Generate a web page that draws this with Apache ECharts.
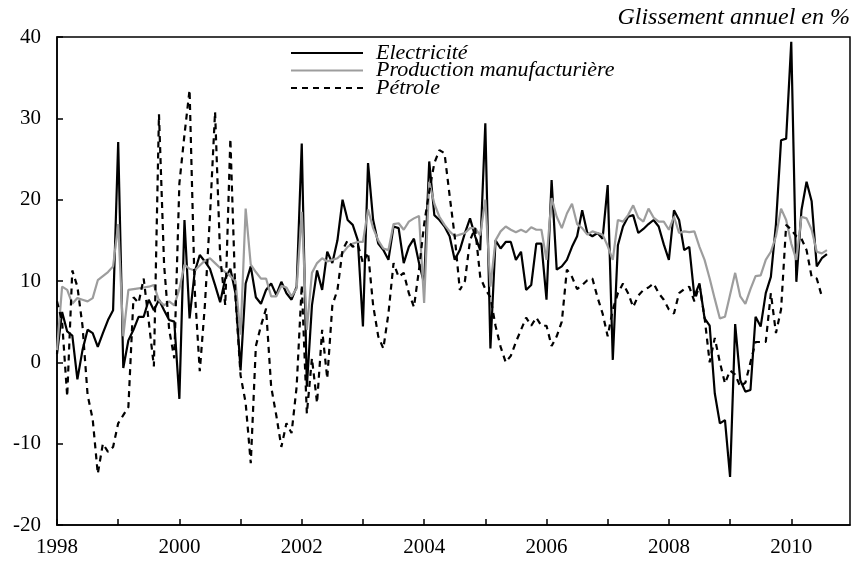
<!DOCTYPE html>
<html>
<head>
<meta charset="utf-8">
<script src="https://cdn.jsdelivr.net/npm/echarts@6/dist/echarts.min.js"></script>
<style>html,body{margin:0;padding:0;background:#fff}#c{width:856px;height:574px}</style>
</head>
<body>
<div id="c"></div>
<script>
// Monthly data, starting January 1998
const startYear = 1998;
const yearTicks = [1998,1999,2000,2001,2002,2003,2004,2005,2006,2007,2008,2009,2010];
const yearLabels = [1998,2000,2002,2004,2006,2008,2010];
const seriesNames = ['Electricité', 'Production manufacturière', 'Pétrole'];
const titleText = 'Glissement annuel en %';

const electricite = [
  1.0, 6.2, 3.8, 3.3, -2.1, 1.5, 4.0, 3.6, 1.9, 3.6, 5.2, 6.4,
  27.1, -0.7, 2.7, 4.0, 5.6, 5.6, 7.7, 6.4, 7.7, 6.4, 5.2, 5.0,
  -4.5, 17.5, 5.4, 11.1, 13.2, 12.4, 11.5, 9.5, 7.4, 10.3, 11.5, 8.5,
  -1.0, 9.7, 11.8, 8.0, 7.2, 8.9, 9.7, 8.3, 9.9, 8.5, 7.7, 9.3,
  26.9, -3.0, 7.0, 11.3, 8.9, 13.6, 12.2, 15.0, 20.0, 17.5, 16.9, 15.0,
  4.4, 24.5, 17.5, 14.6, 13.8, 12.6, 16.7, 16.5, 12.2, 14.2, 15.2, 12.2,
  9.7, 24.7, 18.1, 17.5, 16.7, 15.5, 12.6, 13.8, 15.9, 17.7, 15.5, 13.8,
  29.4, 1.7, 15.0, 14.0, 14.8, 14.8, 12.6, 13.6, 8.9, 9.5, 14.6, 14.6,
  7.7, 22.4, 11.4, 11.8, 12.6, 14.2, 15.5, 18.7, 15.9, 15.5, 15.9, 15.2,
  21.8, 0.3, 14.4, 16.7, 17.9, 18.1, 15.9, 16.4, 17.0, 17.5, 16.7, 14.5,
  12.6, 18.7, 17.5, 13.8, 14.2, 8.1, 9.7, 5.4, 4.5, -3.8, -7.5, -7.1,
  -14.1, 4.7, -2.2, -3.6, -3.4, 5.6, 4.4, 8.5, 10.5, 17.0, 27.3, 27.5,
  39.4, 9.9, 18.7, 22.2, 19.8, 11.8, 12.8, 13.3
];

const production = [
  1.5, 9.3, 8.9, 7.2, 7.9, 7.7, 7.5, 7.9, 10.1, 10.6, 11.1, 11.8,
  17.0, 3.2, 8.9, 9.0, 9.1, 9.2, 9.3, 9.5, 7.6, 7.0, 7.5, 7.0,
  9.0, 12.0, 11.5, 11.3, 11.9, 12.5, 12.8, 12.2, 11.6, 11.1, 10.6, 10.0,
  3.4, 18.9, 12.0, 11.1, 10.3, 10.3, 8.1, 8.1, 9.4, 9.2, 8.1, 9.1,
  18.5, 4.0, 11.0, 12.2, 12.8, 12.4, 12.6, 12.8, 13.4, 14.2, 14.6, 14.8,
  14.8, 18.8, 16.5, 15.0, 14.0, 13.8, 17.0, 17.1, 16.3, 17.3, 17.7, 18.0,
  7.3, 22.2, 19.5, 17.9, 16.9, 16.1, 15.5, 15.7, 15.9, 16.5, 16.5, 15.6,
  20.0, 9.3, 15.0, 16.1, 16.7, 16.3, 16.0, 16.3, 16.0, 16.6, 16.3, 16.3,
  12.6, 20.2, 17.9, 16.5, 18.3, 19.5, 17.0, 16.5, 15.7, 16.1, 15.9, 15.7,
  14.3, 12.6, 17.5, 17.3, 18.1, 19.3, 17.8, 17.3, 18.9, 17.8, 17.3, 17.3,
  16.3, 17.9, 15.9, 16.1, 16.0, 16.1, 14.2, 12.6, 10.3, 7.8, 5.4, 5.6,
  8.3, 11.0, 8.1, 7.2, 9.0, 10.6, 10.7, 12.6, 13.6, 15.5, 18.9, 17.5,
  14.6, 12.6, 17.9, 17.7, 16.3, 13.6, 13.4, 13.8
];

const petrole = [
  7.5, 5.0, -4.2, 11.3, 9.3, 4.5, -4.0, -7.0, -13.7, -10.0, -11.0, -10.4,
  -7.5, -6.5, -5.5, 8.0, 7.3, 10.3, 5.0, -0.5, 30.5, 12.0, 4.0, 0.5,
  22.0, 28.0, 33.5, 9.0, -1.1, 7.0, 18.0, 30.8, 13.0, 7.0, 27.5, 8.0,
  -1.6, -5.0, -12.4, 2.0, 4.5, 6.6, -3.0, -6.5, -10.4, -7.5, -8.7, -3.0,
  9.5, -6.3, 0.5, -5.0, 4.0, -2.0, 7.0, 8.9, 13.8, 15.0, 14.2, 14.5,
  12.2, 13.5, 7.0, 3.2, 1.7, 6.0, 12.2, 10.5, 11.0, 8.5, 6.8, 11.4,
  17.0, 21.0, 24.5, 26.1, 25.7, 20.5, 15.5, 8.9, 10.0, 15.0, 16.5, 10.5,
  9.0, 8.0, 4.5, 1.9, 0.0, 0.8, 2.5, 4.0, 5.5, 4.5, 5.5, 4.5,
  4.5, 2.0, 3.2, 5.0, 11.4, 10.5, 9.0, 9.5, 10.1, 10.3, 8.0, 6.0,
  3.2, 6.5, 8.5, 9.7, 8.5, 6.8, 8.2, 8.9, 9.2, 9.7, 8.5, 7.7,
  6.5, 6.0, 8.5, 9.0, 9.3, 7.5, 9.5, 5.5, 0.0, 3.0, 0.0, -2.6,
  -1.0, -1.5, -3.0, -2.5, 0.0, 2.5, 2.5, 2.5, 8.5, 3.6, 6.5, 16.9,
  16.3, 15.5, 15.2, 13.8, 10.5, 10.3, 8.1
];

function toPoints(arr) {
  return arr.map(function (v, i) { return [startYear + i / 12, v]; });
}

const FONT = '"Liberation Serif", "Times New Roman", serif';
const chart = echarts.init(document.getElementById('c'), null, { renderer: 'canvas' });

const option = {
  animation: false,
  backgroundColor: '#ffffff',
  title: {
    text: titleText,
    right: 6,
    top: 6,
    padding: 0,
    textStyle: { fontFamily: FONT, fontStyle: 'italic', fontWeight: 'normal', fontSize: 24, color: '#000' }
  },
  legend: {
    orient: 'vertical',
    left: 290,
    top: 42,
    padding: 0,
    itemGap: -4.5,
    itemWidth: 72,
    itemHeight: 10,
    data: seriesNames,
    itemStyle: { opacity: 0 },
    textStyle: { fontFamily: FONT, fontStyle: 'italic', fontSize: 22, color: '#000', padding: [0, 0, 0, 8] }
  },
  grid: {
    left: 57, right: 6, top: 37, bottom: 49,
    show: true, borderColor: '#000', borderWidth: 1.5, backgroundColor: 'transparent'
  },
  xAxis: {
    type: 'value',
    min: startYear,
    max: 2010.96,
    axisLine: { show: true, onZero: false, lineStyle: { color: '#000', width: 1.5 } },
    axisTick: { show: true, inside: true, length: 6, customValues: yearTicks, lineStyle: { color: '#000', width: 1.5 } },
    axisLabel: { customValues: yearLabels, formatter: function (v) { return String(Math.round(v)); },
      fontFamily: FONT, fontSize: 21, color: '#000', margin: 12 },
    splitLine: { show: false }
  },
  yAxis: {
    type: 'value',
    min: -20, max: 40, interval: 10,
    axisLine: { show: true, onZero: false, lineStyle: { color: '#000', width: 1.5 } },
    axisTick: { show: true, inside: true, length: 6, lineStyle: { color: '#000', width: 1.5 } },
    axisLabel: { fontFamily: FONT, fontSize: 21, color: '#000', margin: 16 },
    splitLine: { show: false }
  },
  series: [
    {
      name: seriesNames[0], type: 'line', data: toPoints(electricite),
      symbol: 'none', showSymbol: false,
      lineStyle: { color: '#000', width: 2.2, type: 'solid' },
      itemStyle: { color: '#000' }
    },
    {
      name: seriesNames[1], type: 'line', data: toPoints(production),
      symbol: 'none', showSymbol: false,
      lineStyle: { color: '#9d9d9d', width: 2.2, type: 'solid' },
      itemStyle: { color: '#9d9d9d' }
    },
    {
      name: seriesNames[2], type: 'line', data: toPoints(petrole),
      symbol: 'none', showSymbol: false,
      lineStyle: { color: '#000', width: 2.2, type: [6, 5] },
      itemStyle: { color: '#000' }
    }
  ]
};
chart.setOption(option);
</script>
</body>
</html>
